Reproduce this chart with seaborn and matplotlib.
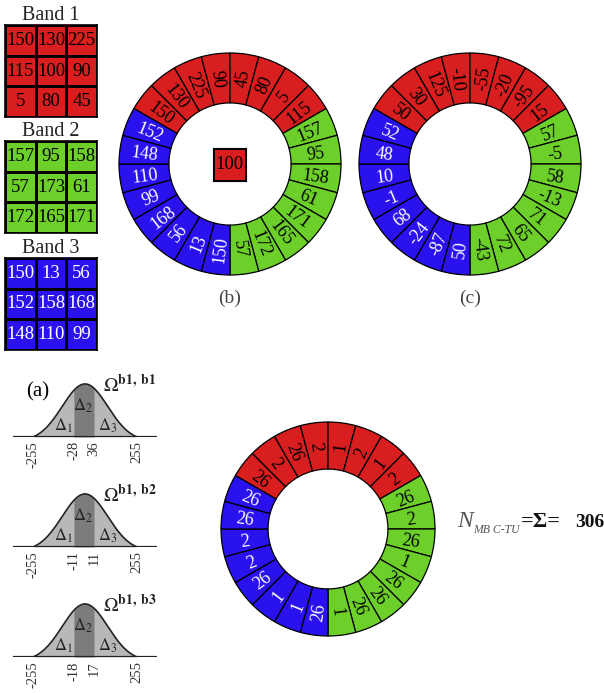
import numpy as np
import seaborn as sns
import matplotlib.pyplot as plt
from matplotlib.colors import ListedColormap

# --- data ---
band1 = [[150, 130, 225], [115, 100, 90], [5, 80, 45]]
band2 = [[157, 95, 158], [57, 173, 61], [172, 165, 171]]
band3 = [[150, 13, 56], [152, 158, 168], [148, 110, 99]]
center_value = 100

# ring (b): neighbours read clockwise, starting top-left
ring_b_red = [150, 130, 225, 90, 45, 80, 5, 115]
ring_b_green = [157, 95, 158, 61, 171, 165, 172, 57]
ring_b_blue = [150, 13, 56, 168, 99, 110, 148, 152]

# ring (c): differences to the centre pixel
ring_c_red = [50, 30, 125, -10, -55, -20, -95, 15]
ring_c_green = [57, -5, 58, -13, 71, 65, 72, -43]
ring_c_blue = [50, -87, -24, 68, -1, 10, 48, 52]

# ring (d): codes
ring_d_red = [26, 2, 26, 2, 1, 2, 1, 2]
ring_d_green = [26, 2, 26, 1, 26, 26, 26, 1]
ring_d_blue = [26, 1, 1, 26, 2, 2, 26, 26]

gauss_ticks = [["-255", "-28", "36", "255"],
               ["-255", "-11", "11", "255"],
               ["-255", "-18", "17", "255"]]
gauss_names = ["b1, b1", "b1, b2", "b1, b3"]
total_label = "306"

RED, GREEN, BLUE = "#d81e1e", "#6ccf2a", "#2a12ee"

sns.set_theme(style="white")
plt.rcParams['font.family'] = ['Liberation Serif', 'DejaVu Serif']
plt.rcParams['mathtext.fontset'] = 'stix'

W, H = 604, 693
fig = plt.figure(figsize=(W / 100, H / 100), dpi=100)


def box(x0, y0, x1, y1):
    return [x0 / W, 1 - y1 / H, (x1 - x0) / W, (y1 - y0) / H]


def grid(data, color, txt, rect, title=None, edge=1.2):
    ax = fig.add_axes(box(*rect))
    sns.heatmap(data, ax=ax, cmap=ListedColormap([color]), cbar=False, annot=True, fmt="d",
                annot_kws={"color": txt, "fontsize": 13.5}, linewidths=1, linecolor="black",
                xticklabels=False, yticklabels=False)
    for s in ax.spines.values():
        s.set_visible(True)
        s.set_color("black")
        s.set_linewidth(edge)
    if title:
        ax.set_title(title, fontsize=14.5, pad=1, color="#222")
    return ax


grid(band1, RED, "black", (5, 25, 97, 117), "Band 1")
grid(band2, GREEN, "black", (5, 141, 97, 233), "Band 2")
grid(band3, BLUE, "white", (5, 258, 97, 350), "Band 3")
grid([[center_value]], RED, "black", (213, 148, 246, 181), edge=0.8)


def ring(red, green, blue, rect, width):
    ax = fig.add_axes(box(*rect))
    vals = red + green + blue
    cols = [RED] * len(red) + [GREEN] * len(green) + [BLUE] * len(blue)
    txt = ["black"] * (len(red) + len(green)) + ["white"] * len(blue)
    step = 360 / len(vals)
    ax.pie([1] * len(vals), colors=cols, startangle=150, counterclock=False, radius=1,
           wedgeprops=dict(width=width, edgecolor="black", linewidth=0.9))
    r = 1 - width / 2
    for i, v in enumerate(vals):
        mid = 150 - step * i - step / 2
        rot = ((mid + 90) % 180) - 90
        ax.text(r * np.cos(np.radians(mid)), r * np.sin(np.radians(mid)), str(v),
                rotation=rot, rotation_mode="anchor", ha="center", va="center_baseline",
                fontsize=13, color=txt[i])
    ax.set_xlim(-1, 1)
    ax.set_ylim(-1, 1)
    ax.set_aspect("equal")
    ax.axis("off")
    return ax


ring(ring_b_red, ring_b_green, ring_b_blue, (119, 53, 341, 275), 0.45)
ring(ring_c_red, ring_c_green, ring_c_blue, (359, 53, 581, 275), 0.45)
ring(ring_d_red, ring_d_green, ring_d_blue, (221, 422, 435, 636), 0.44)

fig.text(230 / W, 1 - 298 / H, "(b)", ha="center", va="center", fontsize=14, color="#444")
fig.text(470 / W, 1 - 298 / H, "(c)", ha="center", va="center", fontsize=14, color="#444")
fig.text(38 / W, 1 - 392 / H, "(a)", ha="center", va="center", fontsize=15, color="black")

# --- gaussian sketches ---
sigma = 112
band_span = (-55, 45)
xs = np.linspace(-255, 255, 400)
e0 = np.exp(-255 ** 2 / (2 * sigma ** 2))
ys = (np.exp(-xs ** 2 / (2 * sigma ** 2)) - e0) / (1 - e0)

for k, base in enumerate([437, 547, 657]):
    ax = fig.add_axes(box(13, base - 61, 157, base))
    ax.set_xlim(-353, 353)
    ax.set_ylim(0, 1.15)
    ax.fill_between(xs, 0, ys, color="#b8b8b8", lw=0)
    inside = (xs >= band_span[0]) & (xs <= band_span[1])
    ax.fill_between(xs[inside], 0, ys[inside], color="#7c7c7c", lw=0)
    ax.plot(xs, ys, color="#222", lw=1.2)
    ax.axhline(0, color="#222", lw=1.6)
    ax.set_xticks([-255, band_span[0], band_span[1], 255])
    ax.set_xticklabels(gauss_ticks[k], rotation=90, fontsize=10.5, color="#333")
    ax.tick_params(axis="x", length=0, pad=3)
    ax.set_yticks([])
    for s in ax.spines.values():
        s.set_visible(False)
    ax.patch.set_alpha(0)
    ax.text(-108, 0.22, r"$\Delta_1$", ha="center", va="center", fontsize=12, color="#222")
    ax.text(-10, 0.58, r"$\Delta_2$", ha="center", va="center", fontsize=12, color="#222")
    ax.text(113, 0.22, r"$\Delta_3$", ha="center", va="center", fontsize=12, color="#222")
    ax.text(88, 0.98, r"$\Omega^{\mathbf{%s}}$" % gauss_names[k].replace(" ", r"\ "),
            ha="left", va="center", fontsize=14, color="#222", clip_on=False)

# --- total ---
fig.text(457 / W, 1 - 527 / H, "N", fontsize=17, style="italic", color="#555", va="baseline")
fig.text(473 / W, 1 - 533 / H, "MB C-TU", fontsize=8.5, style="italic", color="#555", va="baseline")
fig.text(521 / W, 1 - 527 / H, "=Σ=", fontsize=16, weight="bold", color="#111", va="baseline")
fig.text(575 / W, 1 - 527 / H, total_label, fontsize=14, weight="bold", color="#111", va="baseline")

plt.savefig("out.png", dpi=100)
plt.close()
